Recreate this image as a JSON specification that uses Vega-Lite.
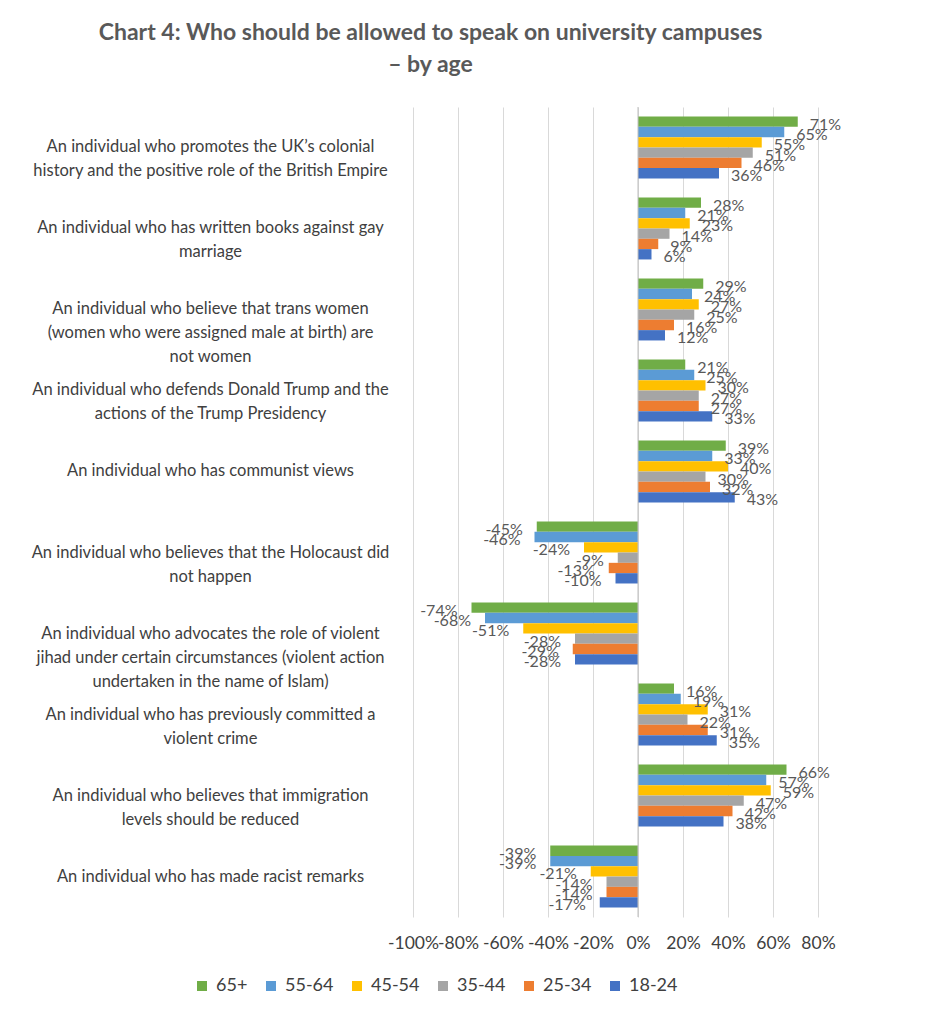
{
  "$schema": "https://vega.github.io/schema/vega-lite/v6.json",
  "autosize": "none",
  "width": 405,
  "height": 810,
  "padding": {"left": 413, "top": 107, "right": 111, "bottom": 107},
  "background": "white",
  "config": {
    "font": "Lato", "view": {"stroke": null},
    "locale": {"number": {"decimal": ".", "thousands": ",", "grouping": [3], "currency": ["$", ""], "minus": "-", "percent": "%"}}
  },
  "title": {
    "text": ["Chart 4: Who should be allowed to speak on university campuses", "– by age"],
    "fontSize": 23, "fontWeight": "bold", "color": "#595959", "font": "Lato",
    "anchor": "middle", "dx": -185, "offset": 30, "lineHeight": 32
  },
  "datasets": {
    "rows": [
      {"q": "An individual who promotes the UK’s colonial|history and the positive role of the British Empire", "age": "65+", "v": 0.71},
      {"q": "An individual who promotes the UK’s colonial|history and the positive role of the British Empire", "age": "55-64", "v": 0.65},
      {"q": "An individual who promotes the UK’s colonial|history and the positive role of the British Empire", "age": "45-54", "v": 0.55},
      {"q": "An individual who promotes the UK’s colonial|history and the positive role of the British Empire", "age": "35-44", "v": 0.51},
      {"q": "An individual who promotes the UK’s colonial|history and the positive role of the British Empire", "age": "25-34", "v": 0.46},
      {"q": "An individual who promotes the UK’s colonial|history and the positive role of the British Empire", "age": "18-24", "v": 0.36},
      {"q": "An individual who has written books against gay|marriage", "age": "65+", "v": 0.28},
      {"q": "An individual who has written books against gay|marriage", "age": "55-64", "v": 0.21},
      {"q": "An individual who has written books against gay|marriage", "age": "45-54", "v": 0.23},
      {"q": "An individual who has written books against gay|marriage", "age": "35-44", "v": 0.14},
      {"q": "An individual who has written books against gay|marriage", "age": "25-34", "v": 0.09},
      {"q": "An individual who has written books against gay|marriage", "age": "18-24", "v": 0.06},
      {"q": "An individual who believe that trans women|(women who were assigned male at birth) are|not women", "age": "65+", "v": 0.29},
      {"q": "An individual who believe that trans women|(women who were assigned male at birth) are|not women", "age": "55-64", "v": 0.24},
      {"q": "An individual who believe that trans women|(women who were assigned male at birth) are|not women", "age": "45-54", "v": 0.27},
      {"q": "An individual who believe that trans women|(women who were assigned male at birth) are|not women", "age": "35-44", "v": 0.25},
      {"q": "An individual who believe that trans women|(women who were assigned male at birth) are|not women", "age": "25-34", "v": 0.16},
      {"q": "An individual who believe that trans women|(women who were assigned male at birth) are|not women", "age": "18-24", "v": 0.12},
      {"q": "An individual who defends Donald Trump and the|actions of the Trump Presidency", "age": "65+", "v": 0.21},
      {"q": "An individual who defends Donald Trump and the|actions of the Trump Presidency", "age": "55-64", "v": 0.25},
      {"q": "An individual who defends Donald Trump and the|actions of the Trump Presidency", "age": "45-54", "v": 0.30},
      {"q": "An individual who defends Donald Trump and the|actions of the Trump Presidency", "age": "35-44", "v": 0.27},
      {"q": "An individual who defends Donald Trump and the|actions of the Trump Presidency", "age": "25-34", "v": 0.27},
      {"q": "An individual who defends Donald Trump and the|actions of the Trump Presidency", "age": "18-24", "v": 0.33},
      {"q": "An individual who has communist views", "age": "65+", "v": 0.39},
      {"q": "An individual who has communist views", "age": "55-64", "v": 0.33},
      {"q": "An individual who has communist views", "age": "45-54", "v": 0.40},
      {"q": "An individual who has communist views", "age": "35-44", "v": 0.30},
      {"q": "An individual who has communist views", "age": "25-34", "v": 0.32},
      {"q": "An individual who has communist views", "age": "18-24", "v": 0.43},
      {"q": "An individual who believes that the Holocaust did|not happen", "age": "65+", "v": -0.45},
      {"q": "An individual who believes that the Holocaust did|not happen", "age": "55-64", "v": -0.46},
      {"q": "An individual who believes that the Holocaust did|not happen", "age": "45-54", "v": -0.24},
      {"q": "An individual who believes that the Holocaust did|not happen", "age": "35-44", "v": -0.09},
      {"q": "An individual who believes that the Holocaust did|not happen", "age": "25-34", "v": -0.13},
      {"q": "An individual who believes that the Holocaust did|not happen", "age": "18-24", "v": -0.10},
      {"q": "An individual who advocates the role of violent|jihad under certain circumstances (violent action|undertaken in the name of Islam)", "age": "65+", "v": -0.74},
      {"q": "An individual who advocates the role of violent|jihad under certain circumstances (violent action|undertaken in the name of Islam)", "age": "55-64", "v": -0.68},
      {"q": "An individual who advocates the role of violent|jihad under certain circumstances (violent action|undertaken in the name of Islam)", "age": "45-54", "v": -0.51},
      {"q": "An individual who advocates the role of violent|jihad under certain circumstances (violent action|undertaken in the name of Islam)", "age": "35-44", "v": -0.28},
      {"q": "An individual who advocates the role of violent|jihad under certain circumstances (violent action|undertaken in the name of Islam)", "age": "25-34", "v": -0.29},
      {"q": "An individual who advocates the role of violent|jihad under certain circumstances (violent action|undertaken in the name of Islam)", "age": "18-24", "v": -0.28},
      {"q": "An individual who has previously committed a|violent crime", "age": "65+", "v": 0.16},
      {"q": "An individual who has previously committed a|violent crime", "age": "55-64", "v": 0.19},
      {"q": "An individual who has previously committed a|violent crime", "age": "45-54", "v": 0.31},
      {"q": "An individual who has previously committed a|violent crime", "age": "35-44", "v": 0.22},
      {"q": "An individual who has previously committed a|violent crime", "age": "25-34", "v": 0.31},
      {"q": "An individual who has previously committed a|violent crime", "age": "18-24", "v": 0.35},
      {"q": "An individual who believes that immigration|levels should be reduced", "age": "65+", "v": 0.66},
      {"q": "An individual who believes that immigration|levels should be reduced", "age": "55-64", "v": 0.57},
      {"q": "An individual who believes that immigration|levels should be reduced", "age": "45-54", "v": 0.59},
      {"q": "An individual who believes that immigration|levels should be reduced", "age": "35-44", "v": 0.47},
      {"q": "An individual who believes that immigration|levels should be reduced", "age": "25-34", "v": 0.42},
      {"q": "An individual who believes that immigration|levels should be reduced", "age": "18-24", "v": 0.38},
      {"q": "An individual who has made racist remarks", "age": "65+", "v": -0.39},
      {"q": "An individual who has made racist remarks", "age": "55-64", "v": -0.39},
      {"q": "An individual who has made racist remarks", "age": "45-54", "v": -0.21},
      {"q": "An individual who has made racist remarks", "age": "35-44", "v": -0.14},
      {"q": "An individual who has made racist remarks", "age": "25-34", "v": -0.14},
      {"q": "An individual who has made racist remarks", "age": "18-24", "v": -0.17}
    ]
  },
  "data": {"name": "rows"},
  "encoding": {
    "y": {
      "field": "q", "type": "nominal", "sort": null, "title": null,
      "scale": {"paddingInner": 0.235, "paddingOuter": 0.117},
      "axis": {
        "labelExpr": "split(datum.value, '|')",
        "labelAlign": "center", "labelPadding": 203, "ticks": false, "domain": false,
        "labelFontSize": 16.5, "labelColor": "#404040", "labelLineHeight": 24,
        "labelLimit": 500, "labelFont": "Lato"
      }
    },
    "x": {
      "field": "v", "type": "quantitative", "title": null,
      "scale": {"domain": [-1, 0.8], "nice": false},
      "axis": {
        "format": ".0%", "values": [-1, -0.8, -0.6, -0.4, -0.2, 0, 0.2, 0.4, 0.6, 0.8],
        "labelOverlap": false, "labelFlush": false, "labelBound": false, "domain": false, "ticks": false, "labelPadding": 17,
        "labelFontSize": 17.5, "labelColor": "#404040", "gridColor": "#d9d9d9", "labelFont": "Lato"
      }
    },
    "yOffset": {"field": "age", "type": "nominal", "sort": ["65+", "55-64", "45-54", "35-44", "25-34", "18-24"]}
  },
  "layer": [
    {
      "mark": {"type": "bar"},
      "encoding": {
        "color": {
          "field": "age", "type": "nominal", "title": null,
          "scale": {
            "domain": ["65+", "55-64", "45-54", "35-44", "25-34", "18-24"],
            "range": ["#70AD47", "#5B9BD5", "#FFC000", "#A5A5A5", "#ED7D31", "#4472C4"]
          },
          "legend": {
            "orient": "none", "direction": "horizontal", "legendX": -220, "legendY": 870,
            "symbolType": "square", "symbolSize": 100, "labelFontSize": 18,
            "labelColor": "#404040", "columnPadding": 14, "labelFont": "Lato", "labelOffset": 5
          }
        }
      }
    },
    {
      "mark": {"type": "rule", "color": "#bfbfbf"},
      "data": {"values": [{"z": 0}]},
      "encoding": {"x": {"field": "z", "type": "quantitative"}, "y": null, "yOffset": null}
    },
    {
      "transform": [{"filter": "datum.v >= 0"}],
      "mark": {"type": "text", "align": "left", "dx": 12, "dy": 3, "fontSize": 16, "color": "#595959", "font": "Lato"},
      "encoding": {"text": {"field": "v", "type": "quantitative", "format": ".0%"}}
    },
    {
      "transform": [{"filter": "datum.v < 0"}],
      "mark": {"type": "text", "align": "right", "dx": -14, "dy": 3, "fontSize": 16, "color": "#595959", "font": "Lato"},
      "encoding": {"text": {"field": "v", "type": "quantitative", "format": ".0%"}}
    }
  ]
}
